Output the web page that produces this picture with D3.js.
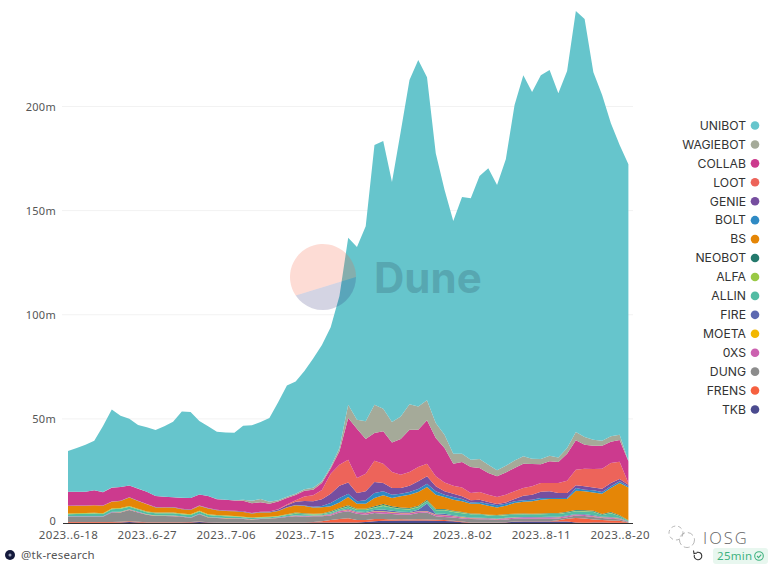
<!DOCTYPE html>
<html>
<head>
<meta charset="utf-8">
<script src="https://cdn.jsdelivr.net/npm/d3@7"></script>
<style>
  html, body { margin: 0; padding: 0; background: #fff; }
  svg { display: block; }
  text { font-family: "Noto Sans", "Open Sans", sans-serif; }
  .legend text { font-family: Inter, "Noto Sans", sans-serif; }
</style>
</head>
<body>
<div id="chart"></div>
<script>
// values in millions, one per day from 2023-06-18
const UNIBOT = [
  19.5, 21, 22.5, 23.8, 31.7, 37.5, 34.2, 32, 30.5, 31,
  31.7, 33.9, 36.2, 41.4, 41.3, 35.3, 33.5, 32.3, 32.3, 32.4,
  35.5, 36.3, 36.9, 40.3, 47.1, 53.4, 53.9, 56.8, 62.1, 65.5,
  67, 73, 80.2, 82.9, 93.6, 124.7, 128.5, 115.2, 136.8, 155.7,
  166.3, 155.1, 129.6, 117.6, 111.7, 123.2, 125.6, 135.9, 142.4, 137,
  147.2, 170.7, 183, 176.1, 184.3, 185.2, 174.9, 181, 202.1, 200.7,
  176.5, 166, 150.4, 139.1, 142.5];
const WAGIEBOT = [
  .05, .05, .05, .05, .05, .05, .05, .05, .05, .05,
  .05, .05, .05, .05, .05, .05, .05, .05, .05, .1,
  .5, 1.2, 1.6, .9, .6, .6, .6, .7, .9, .8,
  .8, 1.6, 6.4, 4.3, 8.6, 13.6, 10.9, 9.8, 10.9, 12.2,
  11.2, 9.6, 7.2, 6.4, 4.8, 4, 3.5, 4.3, 4, 2.9,
  3.2, 3.6, 3.5, 2.6, 2.5, 2.7, 2.2, 2.7, 4, 3.7,
  2.9, 2.4, 2.6, 2.6, .2];
const COLLAB = [
  6.7, 6.6, 6.6, 7.1, 6.4, 6.7, 6.6, 5.6, 5.8, 5.9,
  5.3, 5, 4.7, 5.2, 5.5, 5.3, 5.7, 5.1, 5.1, 5,
  5, 4.6, 4.5, 3.7, 3.7, 3.15, 2.6, 2.8, 2.7, 3.4,
  2.5, 6.4, 20, 23.7, 16.6, 13.3, 15.5, 14.2, 17.1, 20.3,
  17.9, 20.8, 18.4, 16.5, 10.6, 12.3, 12.5, 11.5, 10.4, 9.9,
  10.7, 11.2, 11.7, 10.7, 9, 10.4, 10.1, 13, 14.1, 11.5,
  11.2, 11, 10.2, 10.4, 10.4];
const LOOT = [
  .02, .02, .02, .02, .02, .02, .02, .02, .02, .02,
  .02, .02, .02, .02, .02, .02, .02, .02, .02, .02,
  .02, .02, .02, .02, .1, .3, .7, 2.1, 2.8, 4.4,
  9.7, 10.1, 10.9, 7.2, 8.5, 10.2, 9.3, 7.7, 6.4, 6.6,
  6.9, 6.1, 4.8, 4.3, 3.8, 4.2, 3.5, 3.7, 3.5, 3.4,
  3.7, 3.7, 3.7, 4, 4.2, 4, 4.8, 5.9, 7.5, 8.5,
  8.8, 9.6, 9.6, 8.3, .8];
const GENIE = [
  .03, .03, .03, .03, .03, .03, .03, .03, .03, .03,
  .1, .1, .1, .2, .2, .1, .2, .2, .2, .2,
  .3, .2, .3, .4, .6, 1, 1.5, 2.2, 2.7, 3.2,
  4.4, 5.9, 5.4, 4, 4.3, 5.3, 4, 3.2, 2.7, 3,
  3.7, 3.5, 2.4, 1.6, 1.6, 1.3, 1, 1.1, .8, .6,
  .6, 1.1, 2.2, 2.4, 3, 3.2, 2.4, 2.4, 1.3, 1.6,
  1.4, 1.6, 1.6, 1.1, .8];
const BOLT = [
  .03, .03, .03, .03, .03, .03, .03, .03, .03, .03,
  .03, .03, .03, .03, .03, .03, .03, .03, .03, .03,
  .03, .03, .03, .05, .1, .15, .2, .2, .3, .6,
  1.6, 2.1, 1.6, 1.1, 1.6, 2.4, 1.9, 1.6, 1.3, 1.3,
  1.4, 1.6, 1.6, 1.1, 1.3, 1.1, .6, .8, 1, 1,
  1, .8, .7, .8, .8, .5, .5, .5, 1.3, .8,
  1, .8, .8, .8, .5];
const BS = [
  3.6, 3.6, 3.5, 3.6, 3.6, 3.2, 3.4, 4.1, 3.8, 3.5,
  2.5, 2.4, 2.5, 2, 2, 2.3, 2.8, 2.3, 2.2, 2.2,
  2.3, 2, 2.2, 2.1, 2.4, 3.2, 3.5, 3.5, 3, 3,
  2.4, 2.7, 4, 2.4, 2.4, 4, 4.2, 4, 5.4, 6.4,
  6.6, 6.1, 6.9, 5.8, 5.3, 5.1, 4.7, 4.8, 4.3, 3.7,
  4.1, 5.1, 5.6, 5.9, 6.6, 6.7, 6.7, 6.1, 9.3, 9.1,
  8.8, 9.8, 11.5, 15.5, 15.8];
const NEOBOT = [
  .05, .05, .05, .05, .05, .05, .05, .05, .05, .05,
  .05, .05, .05, .05, .05, .05, .05, .05, .05, .05,
  .05, .05, .05, .05, .05, .1, .2, .25, .2, .2,
  .3, .3, .4, .3, .3, .4, .5, .4, .4, .4,
  .4, .5, .3, .3, .3, .3, .25, .25, .2, .2,
  .25, .25, .25, .25, .25, .25, .25, .3, .35, .35,
  .4, .3, .4, .3, .15];
const ALFA = [
  .3, .3, .3, .3, .3, .35, .35, .35, .3, .3,
  .3, .3, .3, .3, .3, .3, .3, .25, .25, .25,
  .2, .2, .2, .2, .2, .25, .3, .3, .2, .2,
  .3, .3, .3, .3, .3, .3, .4, .3, .3, .3,
  .3, .2, .3, .3, .3, .3, .2, .2, .2, .2,
  .2, .2, .2, .2, .2, .2, .2, .2, .2, .2,
  .2, .2, .2, .15, .05];
const ALLIN = [
  1, 1.1, 1.2, 1.3, 1.1, 1.25, 1.35, 1.15, 1.05, .9,
  1, 1, 1.1, 1, 1.2, 1.1, 1, .85, .85, .75,
  .6, .5, .5, .5, .5, .65, .75, .7, .45, .5,
  .5, .6, .9, .8, 1, 1, 1.7, 1.4, 1.3, 1.2,
  1.2, 1.1, 1.6, 1.7, 1.6, 1.55, 1.5, 1.5, 1.2, 1.3,
  1.25, 1.25, 1.25, 1.15, 1.3, 1.4, 1.3, 1.35, 1.3, 1.4,
  1.6, .8, 1.8, .9, .43];
const FIRE = [
  .1, .1, .1, .1, .1, .15, .2, .2, .1, .1,
  .1, .1, .1, .1, .1, .1, .1, .1, .1, .1,
  .1, .1, .1, .1, .1, .15, .2, .2, .1, .15,
  .25, .25, .4, .3, .4, .5, .8, .6, .5, .4,
  .7, 3.6, .4, .5, .3, .3, .25, .25, .2, .2,
  .2, .2, .2, .2, .25, .25, .25, .25, .25, .25,
  .3, .2, .3, .2, .05];
const MOETA = [
  .05, .05, .05, .05, .05, .05, .05, .05, .05, .05,
  .05, .05, .05, .05, .05, .05, .05, .05, .05, .05,
  .05, .05, .05, .05, .05, .05, .05, .05, .05, .05,
  .15, .15, .2, .2, .2, .2, .3, .2, .2, .2,
  .2, .2, .2, .2, .2, .15, .1, .1, .1, .1,
  .1, .1, .1, .1, .1, .1, .1, .1, .1, .1,
  .1, .1, .1, .05, .02];
const OXS = [
  .1, .1, .1, .1, .1, .15, .2, .2, .15, .1,
  .1, .1, .1, .1, .1, .1, .1, .1, .1, .1,
  .1, .1, .1, .1, .1, .1, .2, .2, .2, .3,
  .5, .5, .7, .5, .7, .8, .9, .8, .7, .7,
  .7, .5, .7, .8, .6, .5, .4, .4, .3, .4,
  .5, .5, .5, .5, .5, .5, .5, .4, .4, .4,
  .4, .3, .4, .3, .1];
const DUNG = [
  2.5, 2.5, 2.5, 2.5, 2.5, 4.5, 4.4, 5.4, 4.5, 3.6,
  3, 3, 2.9, 2.6, 1.9, 3.5, 2.2, 2.1, 1.9, 1.8,
  1.6, 1.3, 1.6, 1.7, 2.1, 2.6, 3, 2.7, 2.8, 2.3,
  2.2, 3.2, 3.3, 3, 2.5, 2.9, 2.6, 2.6, 2.2, 2.3,
  3, 3.4, 1.6, 1.5, 1.5, 1.5, 1.6, 1.5, 1.6, 1.2,
  1.3, 1.3, 1.3, 1.3, 1.2, 1.2, .9, .8, 1.2, 1.2,
  1.2, 1, .9, .7, .2];
const FRENS = [
  .4, .4, .4, .4, .4, .4, .4, .3, .3, .3,
  .3, .3, .3, .3, .3, .2, .2, .2, .2, .2,
  .2, .2, .2, .2, .2, .2, .2, .2, .3, .6,
  1.1, 1.6, 2, 1.2, 1, 1.1, .8, .6, .6, .5,
  .6, .5, .5, .4, .3, .3, .2, .2, .1, .1,
  .1, .1, .1, .1, .1, .2, .6, 1.3, 2.2, 2.1,
  1.4, 1.2, 1.1, 1, .2];
const TKB = [
  .1, .1, .1, .1, .1, .1, .2, .5, .3, .1,
  .1, .1, .1, .1, .2, .5, .2, .1, .1, .1,
  .1, .1, .1, .1, .1, .1, .1, .1, .2, .3,
  .3, .3, .3, .3, .5, .8, 1.1, 1.1, 1.2, 1.2,
  1.2, 1.2, 1.1, 1, .8, .4, .1, .1, .1, .1,
  .3, .6, .7, .7, .7, .7, .7, .7, .2, .1,
  .3, .2, .1, .1, .1];

const seriesNames = ['UNIBOT', 'WAGIEBOT', 'COLLAB', 'LOOT', 'GENIE', 'BOLT', 'BS', 'NEOBOT',
  'ALFA', 'ALLIN', 'FIRE', 'MOETA', '0XS', 'DUNG', 'FRENS', 'TKB'];
const seriesValues = [UNIBOT, WAGIEBOT, COLLAB, LOOT, GENIE, BOLT, BS, NEOBOT,
  ALFA, ALLIN, FIRE, MOETA, OXS, DUNG, FRENS, TKB];
const seriesColors = ['#66c5cc', '#a5aa99', '#cc3a8e', '#ed645a', '#764e9f', '#2f8ac4', '#e58606', '#24796c',
  '#99c945', '#52bca3', '#5d69b1', '#f2b701', '#cc61b0', '#8c8c8c', '#f6603f', '#4b4b8f'];

const yTicks = [0, 50, 100, 150, 200];
const xTickLabels = ['2023..6-18', '2023..6-27', '2023..7-06', '2023..7-15',
  '2023..7-24', '2023..8-02', '2023..8-11', '2023..8-20'];

const width = 770, height = 569;
const startDay = new Date(2023, 5, 18);
const days = UNIBOT.map((d, i) => d3.timeDay.offset(startDay, i));
const xTickDays = xTickLabels.map((d, i) => d3.timeDay.offset(startDay, i * 9));

const x = d3.scaleTime().domain([days[0], days[days.length - 1]]).range([68, 628.4]);
const y = d3.scaleLinear().domain([0, 200]).range([523, 106.5]);

const svg = d3.select('#chart').append('svg').attr('width', width).attr('height', height);

// gridlines
svg.append('g').selectAll('line').data(yTicks.slice(1)).join('line')
  .attr('x1', 62).attr('x2', 633)
  .attr('y1', d => y(d)).attr('y2', d => y(d))
  .attr('stroke', '#f2f2f2');

// stacked areas, TKB at the bottom
const rows = days.map((day, i) => {
  const row = { day: day };
  seriesNames.forEach((name, s) => { row[name] = seriesValues[s][i]; });
  return row;
});
const stack = d3.stack().keys(seriesNames.slice().reverse());
const area = d3.area()
  .x(d => x(d.data.day))
  .y0(d => y(d[0]))
  .y1(d => y(d[1]));

svg.append('g').selectAll('path').data(stack(rows)).join('path')
  .attr('d', area)
  .attr('fill', d => seriesColors[seriesNames.indexOf(d.key)]);

// axes
const xAxis = d3.axisBottom(x).tickValues(xTickDays).tickSize(0).tickPadding(8)
  .tickFormat((d, i) => xTickLabels[i]);
const gx = svg.append('g').attr('transform', 'translate(0,523)').call(xAxis);
gx.select('.domain').remove();
gx.selectAll('text').attr('font-size', 11.5).attr('fill', '#555').attr('letter-spacing', 0.35)
  .style('font-family', '"Noto Sans", sans-serif');
svg.append('line').attr('x1', 63).attr('x2', 633).attr('y1', 523.5).attr('y2', 523.5)
  .attr('stroke', '#333').attr('stroke-width', 1.2);

const yAxis = d3.axisLeft(y).tickValues(yTicks).tickSize(0).tickPadding(0)
  .tickFormat(d => d === 0 ? '0' : d + 'm');
const gy = svg.append('g').attr('transform', 'translate(56,0)').call(yAxis);
gy.select('.domain').remove();
gy.selectAll('text').attr('font-size', 11).attr('fill', '#555').attr('letter-spacing', 0.3)
  .style('font-family', '"Noto Sans", sans-serif');
gy.selectAll('.tick').filter(d => d === 0).select('text').attr('dy', '0.1em');

// legend
const legend = svg.append('g').attr('class', 'legend');
const legendY = d3.scalePoint().domain(seriesNames).range([125.5, 409.5]);
legend.selectAll('text').data(seriesNames).join('text')
  .attr('x', 746).attr('y', d => legendY(d)).attr('dy', '0.35em')
  .attr('text-anchor', 'end').attr('font-size', 12.2).attr('fill', '#333')
  .text(d => d);
legend.selectAll('circle').data(seriesNames).join('circle')
  .attr('cx', 755).attr('cy', d => legendY(d)).attr('r', 4.3)
  .attr('fill', (d, i) => seriesColors[i]);

// Dune watermark
const mark = svg.append('g');
const cx = 323, cy = 277, r = 33;
const chord = (a0, a1) => {
  const p = d3.path();
  p.arc(cx, cy, r, a0, a1);
  p.closePath();
  return p.toString();
};
mark.append('path').attr('d', chord(Math.PI * 0.81, Math.PI * 2)).attr('fill', '#f4603e').attr('opacity', 0.22);
mark.append('path').attr('d', chord(0, Math.PI * 0.81)).attr('fill', '#2a2a72').attr('opacity', 0.2);
mark.append('text').attr('x', 374).attr('y', 293).attr('font-size', 42).attr('font-weight', 700)
  .attr('fill', '#2a4a60').attr('opacity', 0.24)
  .style('font-family', 'Inter, sans-serif').text('Dune');

// footer, left
svg.append('circle').attr('cx', 10).attr('cy', 555).attr('r', 5).attr('fill', '#141a3c');
svg.append('circle').attr('cx', 10).attr('cy', 555).attr('r', 1.5).attr('fill', '#9aa0b8');
svg.append('text').attr('x', 21).attr('y', 559).attr('font-size', 11.5).attr('fill', '#555')
  .attr('letter-spacing', 0.25).text('@tk-research');

// IOSG overlay
const bubbles = svg.append('g').attr('fill', 'none').attr('stroke', '#999').attr('stroke-width', 0.7);
bubbles.append('circle').attr('cx', 676).attr('cy', 533).attr('r', 7).attr('stroke-dasharray', '4 3');
bubbles.append('circle').attr('cx', 687).attr('cy', 540).attr('r', 7.5).attr('stroke-dasharray', '6 3');
svg.append('text').attr('x', 703).attr('y', 543.5).attr('font-size', 16.5).attr('font-weight', 300)
  .attr('fill', '#666').attr('letter-spacing', 2).style('font-family', '"Open Sans", sans-serif').text('IOSG');

// refresh icon and freshness pill
const icon = d3.path();
icon.arc(698, 556, 3.8, -Math.PI * 0.6, Math.PI * 1.1);
svg.append('path').attr('d', icon.toString()).attr('fill', 'none').attr('stroke', '#333').attr('stroke-width', 1.1);
svg.append('path').attr('d', d3.line()([[693.5, 550.5], [694, 553.5], [697, 553]]))
  .attr('fill', 'none').attr('stroke', '#333').attr('stroke-width', 1.1);
svg.append('rect').attr('x', 713).attr('y', 548).attr('width', 55).attr('height', 16).attr('rx', 3).attr('fill', '#e8f7ef');
svg.append('text').attr('x', 717).attr('y', 560).attr('font-size', 11.5).attr('fill', '#3fb27f')
  .attr('letter-spacing', 0.3).text('25min');
svg.append('circle').attr('cx', 759).attr('cy', 556).attr('r', 4.3)
  .attr('fill', 'none').attr('stroke', '#3fb27f').attr('stroke-width', 1.1);
svg.append('path').attr('d', d3.line()([[757, 556], [758.6, 557.6], [761.2, 554.6]]))
  .attr('fill', 'none').attr('stroke', '#3fb27f').attr('stroke-width', 1.1);
</script>
</body>
</html>
